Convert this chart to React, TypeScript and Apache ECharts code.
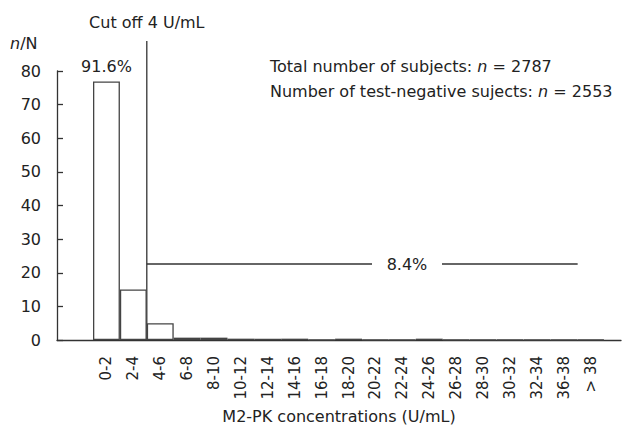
import React, { useEffect, useRef } from "react";
import * as echarts from "echarts";

const categories = ["0-2", "2-4", "4-6", "6-8", "8-10", "10-12", "12-14", "14-16", "16-18", "18-20", "20-22", "22-24", "24-26", "26-28", "28-30", "30-32", "32-34", "36-38", "> 38"];
const percentages = [76.9, 15.0, 5.0, 0.7, 0.7, 0.4, 0.4, 0.4, 0.1, 0.4, 0.1, 0.1, 0.4, 0.1, 0.1, 0.1, 0.1, 0.1, 0.1];
const yTicks = { min: 0, max: 80, interval: 10 };
const lowLabel = "91.6%";
const highLabel = "8.4%";
const highLevel = 22.6;

const FONT = "'DejaVu Sans', sans-serif";
const FS = 16;
const TXT = "#222";
const LINE = "#333";

export default function App() {
  const ref = useRef<HTMLDivElement>(null);
  useEffect(() => {
    if (!ref.current) return;
    const chart = echarts.init(ref.current, null, { renderer: "svg" });
    const axLeft = 57, axRight = 621, top = 71, bottom = 340;
    const catW = 26.9;
    const barLeft = 93;
    const barRight = barLeft + categories.length * catW;
    const plotH = bottom - top;
    const yPix = (v: number) => top + (1 - (v - yTicks.min) / (yTicks.max - yTicks.min)) * plotH;
    const cutX = barLeft + 2 * catW;
    const firstX = barLeft + 0.5 * catW;
    const hy = yPix(highLevel);
    const lastEnd = barLeft + 18.5 * catW - 13;
    const font = `${FS}px ${FONT}`;
    const rich = { i: { fontStyle: "italic", fontSize: FS, fontFamily: FONT, fill: TXT } };

    chart.setOption({
      animation: false,
      textStyle: { fontFamily: FONT },
      grid: [
        { left: axLeft, right: 622 - axRight, top, bottom: 434 - bottom },
        { left: barLeft, right: 622 - barRight, top, bottom: 434 - bottom },
      ],
      xAxis: [
        {
          gridIndex: 0, type: "value", min: 0, max: 1,
          axisLine: { show: true, lineStyle: { color: LINE, width: 1.3 } },
          axisTick: { show: false }, axisLabel: { show: false }, splitLine: { show: false },
          name: "M2-PK concentrations (U/mL)", nameLocation: "middle", nameGap: 68,
          nameTextStyle: { color: TXT, fontSize: FS, fontFamily: FONT },
        },
        {
          gridIndex: 1, type: "category", data: categories,
          axisLine: { show: false }, axisTick: { show: false },
          axisLabel: { rotate: 90, interval: 0, margin: 16, color: TXT, fontSize: 15, fontFamily: FONT },
        },
      ],
      yAxis: [
        {
          gridIndex: 0, type: "value", min: yTicks.min, max: yTicks.max, interval: yTicks.interval,
          axisLine: { show: true, lineStyle: { color: LINE, width: 1.3 } },
          axisTick: { show: true, inside: true, length: 6, lineStyle: { color: LINE, width: 1.3 } },
          axisLabel: { margin: 16, color: TXT, fontSize: FS, fontFamily: FONT },
          splitLine: { show: false },
        },
        {
          gridIndex: 1, type: "value", min: yTicks.min, max: yTicks.max, show: false,
          splitLine: { show: false },
        },
      ],
      series: [
        {
          type: "bar", xAxisIndex: 1, yAxisIndex: 1, data: percentages,
          barWidth: "100%", barGap: "0%",
          itemStyle: { color: "#fff", borderColor: "#444", borderWidth: 1.3 },
        },
      ],
      graphic: [
        { type: "line", shape: { x1: cutX, y1: 41, x2: cutX, y2: bottom }, style: { stroke: LINE, lineWidth: 1.3 } },
        { type: "text", x: cutX, y: 22, style: { text: "Cut off 4 U/mL", fill: TXT, font, textAlign: "center", textVerticalAlign: "middle" } },
        { type: "text", x: firstX, y: 66, style: { text: lowLabel, fill: TXT, font, textAlign: "center", textVerticalAlign: "middle" } },
        { type: "line", shape: { x1: cutX, y1: hy, x2: 372, y2: hy }, style: { stroke: LINE, lineWidth: 1.3 } },
        { type: "line", shape: { x1: 442, y1: hy, x2: lastEnd, y2: hy }, style: { stroke: LINE, lineWidth: 1.3 } },
        { type: "text", x: 407, y: hy, style: { text: highLabel, fill: TXT, font, textAlign: "center", textVerticalAlign: "middle" } },
        { type: "text", x: 10, y: 43, style: { text: "{i|n}/N", textVerticalAlign: "middle", fill: TXT, font, rich } },
        { type: "text", x: 270, y: 66, style: { text: "Total number of subjects: {i|n} = 2787", textVerticalAlign: "middle", fill: TXT, font, rich } },
        { type: "text", x: 270, y: 91, style: { text: "Number of test-negative sujects: {i|n} = 2553", textVerticalAlign: "middle", fill: TXT, font, rich } },
      ],
    });
    return () => chart.dispose();
  }, []);
  return <div ref={ref} style={{ width: 622, height: 434, position: "absolute", left: 0, top: 0, background: "#fff" }} />;
}
